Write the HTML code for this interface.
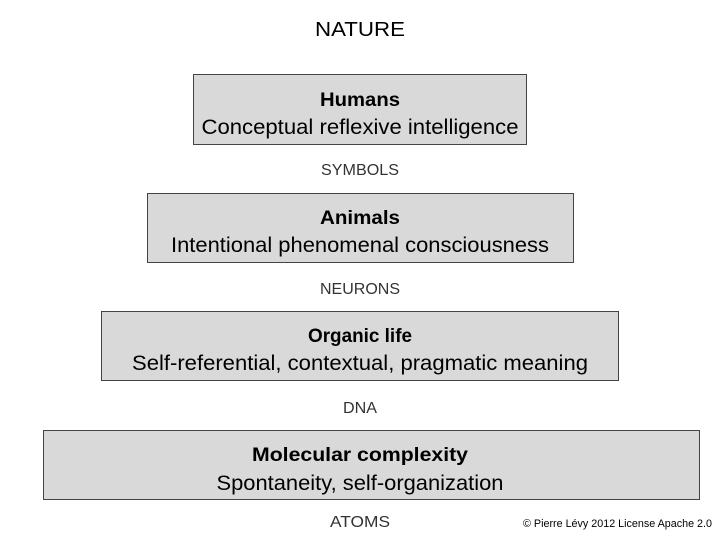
<!DOCTYPE html>
<html><head><style>body{margin:0;background:#fff}svg{display:block}</style></head><body>
<svg width="720" height="540" xmlns="http://www.w3.org/2000/svg" font-family="Liberation Sans, sans-serif" fill="#000">
<text x="360" y="36" font-size="20" text-anchor="middle" textLength="90" lengthAdjust="spacingAndGlyphs">NATURE</text>
<rect x="193.5" y="74.5" width="333" height="70" fill="#d9d9d9" stroke="#444"/>
<text x="360" y="106" font-size="19" font-weight="bold" text-anchor="middle" textLength="80" lengthAdjust="spacingAndGlyphs">Humans</text>
<text x="360" y="134" font-size="21" text-anchor="middle" textLength="317" lengthAdjust="spacingAndGlyphs">Conceptual reflexive intelligence</text>
<text x="360" y="175" font-size="15.5" fill="#333" text-anchor="middle" textLength="78" lengthAdjust="spacingAndGlyphs">SYMBOLS</text>
<rect x="147.5" y="193.5" width="426" height="69" fill="#d9d9d9" stroke="#444"/>
<text x="360" y="224" font-size="19" font-weight="bold" text-anchor="middle" textLength="80" lengthAdjust="spacingAndGlyphs">Animals</text>
<text x="360" y="252" font-size="21" text-anchor="middle" textLength="378" lengthAdjust="spacingAndGlyphs">Intentional phenomenal consciousness</text>
<text x="360" y="294" font-size="15.5" fill="#333" text-anchor="middle" textLength="80" lengthAdjust="spacingAndGlyphs">NEURONS</text>
<rect x="101.5" y="311.5" width="517" height="69" fill="#d9d9d9" stroke="#444"/>
<text x="360" y="342" font-size="19" font-weight="bold" text-anchor="middle" textLength="104" lengthAdjust="spacingAndGlyphs">Organic life</text>
<text x="360" y="370" font-size="21" text-anchor="middle" textLength="456" lengthAdjust="spacingAndGlyphs">Self-referential, contextual, pragmatic meaning</text>
<text x="360" y="413" font-size="15.5" fill="#333" text-anchor="middle" textLength="34" lengthAdjust="spacingAndGlyphs">DNA</text>
<rect x="43.5" y="430.5" width="656" height="69" fill="#d9d9d9" stroke="#444"/>
<text x="360" y="461" font-size="19" font-weight="bold" text-anchor="middle" textLength="216" lengthAdjust="spacingAndGlyphs">Molecular complexity</text>
<text x="360" y="490" font-size="21" text-anchor="middle" textLength="287" lengthAdjust="spacingAndGlyphs">Spontaneity, self-organization</text>
<text x="360" y="527" font-size="15.5" fill="#333" text-anchor="middle" textLength="60" lengthAdjust="spacingAndGlyphs">ATOMS</text>
<text x="523" y="527" font-size="11" textLength="189" lengthAdjust="spacingAndGlyphs">© Pierre Lévy 2012 License Apache 2.0</text>
</svg>
</body></html>
